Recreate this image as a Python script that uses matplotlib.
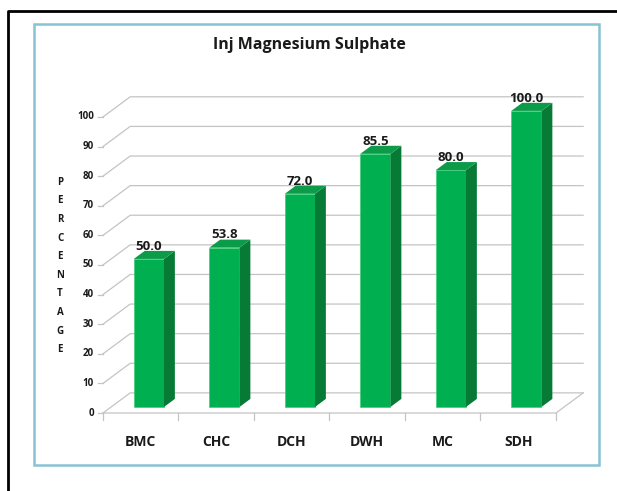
import matplotlib.pyplot as plt
from matplotlib.patches import Polygon, Rectangle
from matplotlib.lines import Line2D

categories = ['BMC', 'CHC', 'DCH', 'DWH', 'MC', 'SDH']
values = [50.0, 53.8, 72.0, 85.5, 80.0, 100.0]
yticks = list(range(0, 101, 10))

# fake 3d: depth offset of back wall in data units
dx, dy = 0.36, 6.8
f0, f1 = 0.3, 0.7
bw = 0.4
front_c, top_c, side_c = '#00b050', '#0c9c49', '#077a36'
grid_c = '#c4c4c4'
txt_c = '#1a1a1a'

plt.rcParams['font.family'] = ['Open Sans', 'DejaVu Sans']

W, H = 617, 491
fig = plt.figure(figsize=(W / 100, H / 100), dpi=100)
ax = fig.add_axes([60 / W, 1 - 430 / H, 540 / W, 340 / H])
ax.set_xlim(-0.5695, 6.583)
ax.set_ylim(-5.74, 109.1)
ax.axis('off')

n = len(categories)

# wall gridlines
for v in yticks:
    ax.plot([0, dx, n + dx], [v, v + dy, v + dy], color=grid_c, lw=0.9, zorder=1)
    ax.plot([-0.07, 0], [v, v], color=grid_c, lw=0.9, zorder=1)
    ax.text(-0.12, v, str(v), ha='right', va='center', fontsize=7,
            fontweight='bold', color=txt_c)

# floor
ax.plot([0, n, n + dx], [0, 0, dy], color=grid_c, lw=0.9, zorder=1)
for i in range(n + 1):
    ax.plot([i, i], [0, -2.4], color=grid_c, lw=0.9, zorder=1, clip_on=False)

ddx, ddy = (f1 - f0) * dx, (f1 - f0) * dy
for i, (cat, v) in enumerate(zip(categories, values)):
    xc = i + 0.5 + f0 * dx
    y0 = f0 * dy
    x0 = xc - bw / 2
    ax.bar(xc, v, bottom=y0, width=bw, color=front_c, edgecolor='#3ccf78',
           linewidth=0.5, zorder=3)
    side = [(x0 + bw, y0), (x0 + bw + ddx, y0 + ddy),
            (x0 + bw + ddx, y0 + v + ddy), (x0 + bw, y0 + v)]
    top = [(x0, y0 + v), (x0 + bw, y0 + v),
           (x0 + bw + ddx, y0 + v + ddy), (x0 + ddx, y0 + v + ddy)]
    ax.add_patch(Polygon(side, closed=True, facecolor=side_c, edgecolor='none', zorder=3))
    ax.add_patch(Polygon(top, closed=True, facecolor=top_c, edgecolor='none', zorder=3))
    ax.text(xc, v + f1 * dy - 0.6, f'{v:.1f}', ha='center', va='bottom',
            fontsize=9.5, fontweight='bold', color=txt_c, zorder=4)
    ax.text(i + 0.5, -9.8, cat, ha='center', va='center', fontsize=10,
            fontweight='bold', color=txt_c, clip_on=False)

fig.text(309 / W, 1 - 45 / H, 'Inj Magnesium Sulphate', ha='center', va='center',
         fontsize=11.5, fontweight='bold', color=txt_c)
fig.text(60 / W, 1 - 266 / H, '\n'.join('PERCENTAGE'), ha='center', va='center',
         fontsize=7, fontweight='bold', linespacing=1.95, color=txt_c)

fig.add_artist(Rectangle((34 / W, 1 - 465 / H), (599 - 34) / W, (465 - 24) / H,
                         fill=False, edgecolor='#86c3d3', lw=1.8,
                         transform=fig.transFigure))
fig.add_artist(Line2D([8 / W, 8 / W, 1], [0, 1 - 11 / H, 1 - 11 / H],
                      color='black', lw=2, transform=fig.transFigure))

fig.savefig('out.png', dpi=100)
